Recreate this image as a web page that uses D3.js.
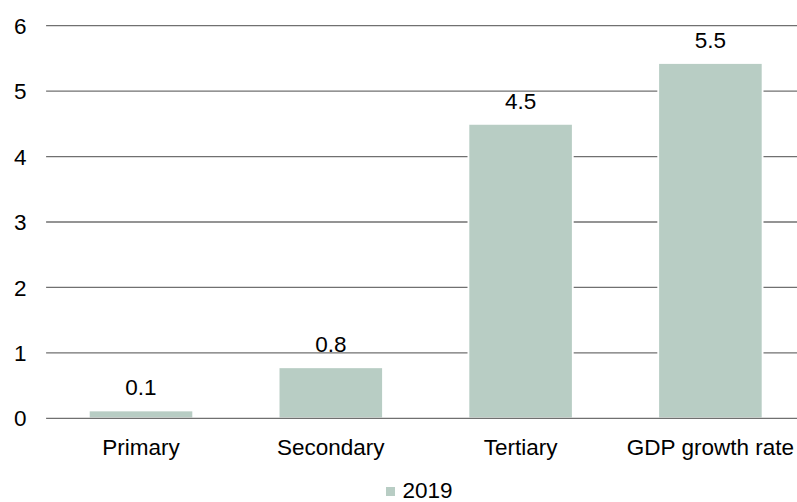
<!DOCTYPE html>
<html>
<head>
<meta charset="utf-8">
<script src="https://cdn.jsdelivr.net/npm/d3@7"></script>
<style>
  html, body { margin: 0; padding: 0; background: #ffffff; }
  svg { display: block; }
  text { font-family: "Liberation Sans", Arial, sans-serif; fill: #000000; }
</style>
</head>
<body>
<svg id="chart" width="797" height="502"></svg>
<script>
// ---- data ----
const categories = ["Primary", "Secondary", "Tertiary", "GDP growth rate"];
const values2019 = [0.12, 0.78, 4.5, 5.43];
const valueLabels = ["0.1", "0.8", "4.5", "5.5"];
const yTicks = [0, 1, 2, 3, 4, 5, 6];
const seriesName = "2019";

// ---- layout ----
const W = 797, H = 502;
const fontSize = 22.5;
const barColor = "#b8cdc4";
const gridColor = "#707070";

const svg = d3.select("#chart");

const x = d3.scaleBand()
  .domain(categories)
  .range([46.1, 805.3])
  .paddingInner(0.45)
  .paddingOuter(0.225);

const y = d3.scaleLinear()
  .domain([0, 6])
  .range([418.3, 25.7]);

// gridlines (behind bars)
const grid = svg.append("g");
grid.selectAll("line")
  .data(yTicks.filter(d => d !== 0))
  .join("line")
  .attr("x1", 46.1)
  .attr("x2", W)
  .attr("y1", d => y(d))
  .attr("y2", d => y(d))
  .attr("stroke", gridColor)
  .attr("stroke-width", 1.3);

// y tick labels
svg.append("g").selectAll("text")
  .data(yTicks)
  .join("text")
  .attr("x", 26.5)
  .attr("y", d => y(d))
  .attr("dy", "0.36em")
  .attr("text-anchor", "end")
  .attr("font-size", fontSize)
  .text(d => d);

// bars
svg.append("g").selectAll("rect")
  .data(values2019)
  .join("rect")
  .attr("x", (d, i) => x(categories[i]))
  .attr("width", x.bandwidth())
  .attr("y", d => y(d))
  .attr("height", d => y(0) - y(d))
  .attr("fill", barColor)
  .attr("stroke", "#ffffff")
  .attr("stroke-width", 1.8);

// baseline
svg.append("line")
  .attr("x1", 46.1)
  .attr("x2", W)
  .attr("y1", y(0))
  .attr("y2", y(0))
  .attr("stroke", gridColor)
  .attr("stroke-width", 1.3);

// value labels
svg.append("g").selectAll("text")
  .data(values2019)
  .join("text")
  .attr("x", (d, i) => x(categories[i]) + x.bandwidth() / 2)
  .attr("y", d => y(d) - 15)
  .attr("text-anchor", "middle")
  .attr("font-size", fontSize)
  .text((d, i) => valueLabels[i]);

// category labels
svg.append("g").selectAll("text")
  .data(categories)
  .join("text")
  .attr("x", d => x(d) + x.bandwidth() / 2)
  .attr("y", 455)
  .attr("text-anchor", "middle")
  .attr("font-size", fontSize)
  .text(d => d);

// legend
const legend = svg.append("g");
legend.append("rect")
  .attr("x", 386)
  .attr("y", 487)
  .attr("width", 9)
  .attr("height", 9)
  .attr("fill", barColor);
legend.append("text")
  .attr("x", 402.5)
  .attr("y", 498)
  .attr("font-size", fontSize)
  .text(seriesName);
</script>
</body>
</html>
